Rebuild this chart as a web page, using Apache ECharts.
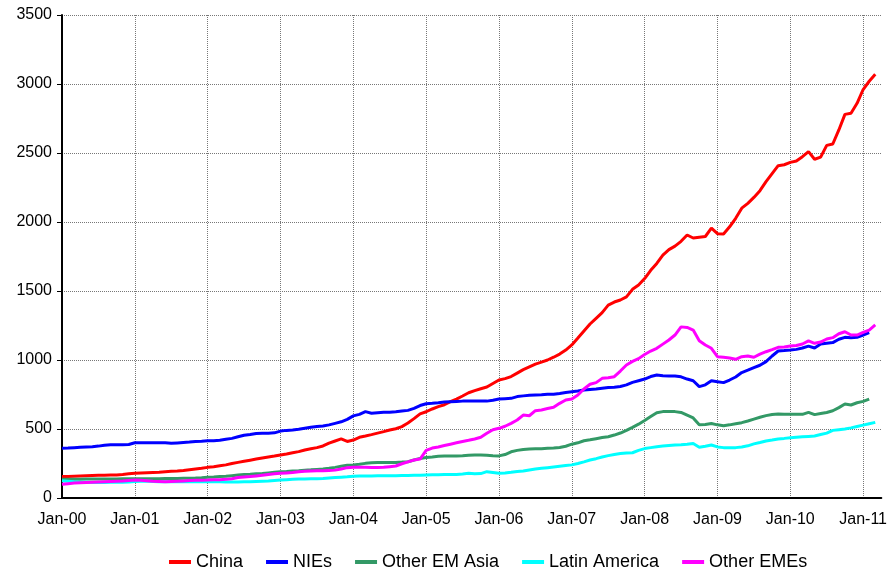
<!DOCTYPE html>
<html>
<head>
<meta charset="utf-8">
<script src="https://cdn.jsdelivr.net/npm/echarts@6/dist/echarts.min.js"></script>
<style>
  html, body { margin: 0; padding: 0; background: #fff; }
  #chart { width: 890px; height: 570px; }
</style>
</head>
<body>
<div id="chart"></div>
<script>
// monthly categories Jan-00 .. Apr-11
const years = ["00", "01", "02", "03", "04", "05", "06", "07", "08", "09", "10", "11"];
const months = ["Jan", "Feb", "Mar", "Apr", "May", "Jun", "Jul", "Aug", "Sep", "Oct", "Nov", "Dec"];
const categories = [];
years.forEach(function (y) {
  months.forEach(function (m) { categories.push(m + "-" + y); });
});
categories.length = 136;

const yTicks = [0, 500, 1000, 1500, 2000, 2500, 3000, 3500];

// values, one row per year
const china = [
  155, 156, 158, 160, 162, 163, 164, 165, 166, 167, 170, 175,
  179, 181, 183, 185, 187, 190, 193, 196, 200, 205, 210, 215,
  222, 227, 234, 240, 250, 258, 266, 274, 282, 290, 297, 304,
  312, 319, 328, 336, 348, 357, 365, 377, 398, 413, 428, 410,
  420, 440, 449, 459, 470, 481, 493, 502, 517, 543, 575, 610,
  625, 645, 662, 676, 698, 717, 739, 763, 778, 792, 804, 830,
  855, 865, 880, 905, 930, 950, 970, 985, 1000, 1020, 1043, 1072,
  1109, 1159, 1210, 1261, 1302, 1343, 1398, 1420, 1435, 1457, 1512, 1543,
  1590, 1650, 1700, 1760, 1800, 1825, 1860, 1906, 1884, 1890, 1895, 1955,
  1915, 1913, 1965, 2027, 2100, 2135, 2178, 2227, 2292, 2350, 2408, 2415,
  2432, 2442, 2473, 2510, 2455, 2470, 2555, 2565, 2667, 2780, 2788, 2860,
  2960, 3020, 3070
];
const nies = [
  360, 362, 365, 368, 370, 372, 376, 382, 385, 386, 386, 388,
  400, 401, 401, 401, 401, 400, 396, 399, 402, 405, 410, 412,
  415, 415, 418, 425, 432, 444, 455, 460, 468, 470, 470, 472,
  485, 490, 493, 498, 505, 512, 518, 522, 530, 541, 552, 570,
  595, 606, 626, 614, 618, 621, 622, 625, 630, 635, 650, 670,
  683, 686, 690, 695, 698, 700, 702, 702, 702, 702, 702, 708,
  718, 720, 722, 735, 740, 744, 746, 748, 751, 752, 758, 765,
  770, 775, 783, 787, 790, 795, 800, 803, 808, 820, 838, 850,
  862, 880, 891, 886, 884, 884, 878, 862, 850, 807, 820, 850,
  843, 836, 855, 877, 909, 926, 945, 962, 988, 1029, 1065, 1068,
  1072, 1077, 1087, 1101, 1087, 1116, 1121, 1126, 1150, 1164, 1162, 1164,
  1181, 1198
];
const otherEmAsia = [
  135, 135, 136, 136, 137, 137, 138, 138, 138, 138, 139, 139,
  140, 140, 140, 140, 140, 141, 141, 142, 143, 144, 145, 147,
  150, 152, 155, 158, 162, 166, 170, 172, 175, 178, 182, 186,
  190, 192, 195, 198, 202, 204, 207, 210, 215, 222, 230, 238,
  240, 245, 251, 256, 258, 258, 258, 258, 260, 263, 275, 287,
  293, 297, 302, 305, 305, 305, 306, 310, 312, 312, 310, 307,
  305, 315, 335, 345, 352, 355, 356, 357, 360, 362, 366, 375,
  390, 400, 415, 422, 430, 438, 444, 456, 471, 490, 512, 535,
  562, 590, 618, 626, 627, 626, 620, 600, 580, 530, 532, 540,
  530, 524, 530, 538, 546, 558, 572, 585, 597, 605, 609, 607,
  606, 606, 606, 621, 604, 612, 620, 632, 655, 681, 674, 690,
  700, 717
];
const latinAmerica = [
  125, 122, 118, 115, 114, 113, 113, 113, 114, 114, 115, 116,
  120, 121, 121, 120, 118, 118, 117, 117, 118, 118, 117, 117,
  120, 118, 117, 116, 116, 116, 117, 118, 120, 122, 124, 127,
  130, 133, 135, 137, 138, 139, 140, 142, 145, 148, 151, 154,
  158, 159, 160, 160, 161, 161, 162, 162, 163, 163, 164, 165,
  167, 168, 169, 170, 170, 171, 174, 179, 176, 177, 191, 185,
  179, 182, 186, 192, 196, 203, 210, 215, 220, 225, 230, 235,
  240, 250, 262, 275, 285, 297, 307, 315, 322, 326, 328, 345,
  358, 365, 372, 376, 380, 384, 386, 390, 395, 368, 375, 384,
  370, 365, 365, 365, 370, 378, 392, 402, 413, 420, 428, 432,
  437, 440, 443, 446, 449, 460, 470, 490, 495, 500, 508, 518,
  528, 538, 548
];
const otherEmes = [
  100, 104, 108, 110, 112, 114, 116, 118, 120, 122, 124, 127,
  130, 128, 125, 122, 120, 118, 120, 122, 124, 126, 128, 129,
  130, 132, 133, 135, 140, 148, 152, 155, 160, 165, 170, 175,
  179, 182, 185, 190, 193, 195, 197, 198, 200, 202, 210, 220,
  222, 222, 222, 221, 221, 222, 227, 232, 248, 262, 275, 282,
  345, 362, 370, 380, 390, 400, 410, 418, 428, 440, 469, 495,
  505, 520, 541, 565, 601, 596, 633, 638, 648, 657, 686, 710,
  717, 746, 790, 824, 836, 867, 872, 879, 920, 964, 990, 1010,
  1040, 1065, 1085, 1115, 1145, 1181, 1240, 1236, 1217, 1140, 1109, 1085,
  1024, 1020, 1015, 1005, 1024, 1029, 1020, 1043, 1060, 1075, 1092, 1095,
  1101, 1105, 1116, 1138, 1121, 1130, 1152, 1162, 1190, 1205, 1181, 1181,
  1200, 1217, 1254
];

const seriesNames = ["China", "NIEs", "Other EM Asia", "Latin America", "Other EMEs"];
const seriesData = [china, nies, otherEmAsia, latinAmerica, otherEmes];
const colors = ["#FF0000", "#0000FF", "#339966", "#00FFFF", "#FF00FF"];

const chart = echarts.init(document.getElementById("chart"));

const everyYear = function (i) { return i % 12 === 0; };

const option = {
  animation: false,
  color: colors,
  textStyle: { fontFamily: "Liberation Sans, Arial, sans-serif" },
  grid: { left: 62, right: 5, top: 15, bottom: 72 },
  legend: {
    left: 164,
    top: 548,
    icon: "rect",
    itemWidth: 22,
    itemHeight: 4,
    itemGap: 23,
    textStyle: { fontSize: 18, color: "#000" },
    data: seriesNames
  },
  xAxis: {
    type: "category",
    boundaryGap: false,
    data: categories,
    axisLine: { lineStyle: { color: "#000", width: 2 } },
    axisTick: { show: false },
    axisLabel: { interval: everyYear, fontSize: 16, color: "#000", margin: 14 },
    splitLine: { show: true, interval: everyYear, lineStyle: { color: "#777", type: "dotted", width: 1 } }
  },
  yAxis: {
    type: "value",
    min: yTicks[0],
    max: yTicks[yTicks.length - 1],
    interval: 500,
    axisLine: { show: true, lineStyle: { color: "#000", width: 2 } },
    axisTick: { show: true, length: 5, lineStyle: { color: "#000" } },
    axisLabel: {
      fontSize: 16,
      color: "#000",
      margin: 10,
      formatter: function (v) { return String(v); }
    },
    splitLine: { lineStyle: { color: "#777", type: "dotted", width: 1 } }
  },
  series: seriesNames.map(function (name, i) {
    return {
      name: name,
      type: "line",
      data: seriesData[i],
      showSymbol: false,
      lineStyle: { width: 3, color: colors[i] }
    };
  })
};

chart.setOption(option);
</script>
</body>
</html>
